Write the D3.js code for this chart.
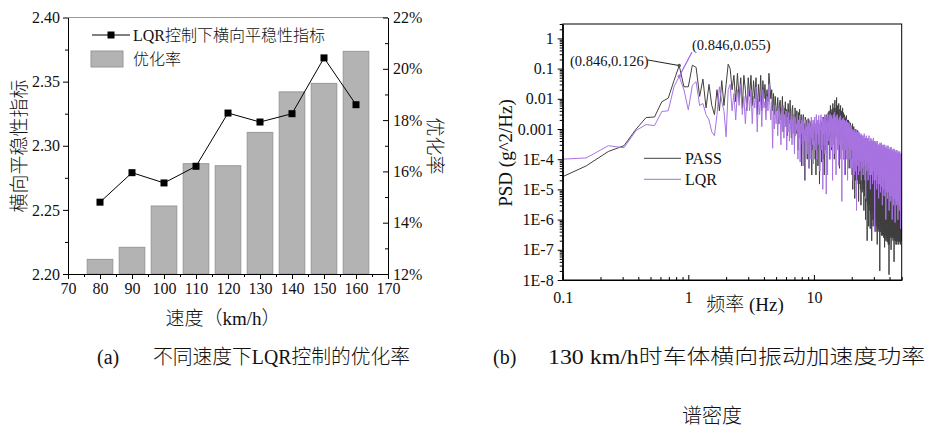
<!DOCTYPE html>
<html><head><meta charset="utf-8">
<script src="https://cdn.jsdelivr.net/npm/d3@7/dist/d3.min.js"></script>
<style>body{margin:0;background:#fff}svg{display:block}</style>
</head><body><svg id="c" width="929" height="430"></svg>
<script>
// ---------- (a) data ----------
const speeds = [80, 90, 100, 110, 120, 130, 140, 150, 160];
const optimizationRate = [12.57, 13.04, 14.65, 16.3, 16.22, 17.52, 19.1, 19.43, 20.68]; // %
const lateralIndex = [2.256, 2.279, 2.271, 2.284, 2.3255, 2.3185, 2.325, 2.3685, 2.332];
const speedTicks = [70, 80, 90, 100, 110, 120, 130, 140, 150, 160, 170];
const indexTicks = [2.20, 2.25, 2.30, 2.35, 2.40];
const rateTicks = [12, 14, 16, 18, 20, 22];

// ---------- (b) data ----------
const freqStep = 1 / 13; // Hz, spectral line spacing (0.846 Hz = 11th line)
const passPSD = [
1.6e-5,6e-5,1.8e-4,2.8e-4,1e-3,2.4e-3,2.5e-3,8e-3,1.05e-2,4e-2,0.126,0.025,0.025,
0.13,0.11,0.012,0.045,0.005,0.03,0.006,0.003,0.02,0.004,0.04,0.006,0.03,0.14,0.1,0.02,0.06,0.008,0.07,0.01,0.05,0.005,0.06,0.02,0.004,0.05,
0.012,0.06,0.006,0.04,0.01,0.05,0.003,0.03,0.008,0.06,0.004,0.04,0.01,0.03,0.005,0.02,0.008,0.07,0.03,0.01,0.02,0.004,0.015,0.003,0.012,0.004,
0.004,0.011,0.0015,0.006,0.009,0.002,0.0035,0.012,8e-4,0.005,
0.0025,0.008,0.0012,0.0045,6e-4,0.007,0.003,0.0015,0.009,0.002,
5e-4,0.004,0.006,0.0012,0.003,3e-4,0.005,0.0018,7e-4,0.004,
0.0025,2e-4,0.0035,0.001,0.0045,5e-4,0.0015,0.003,6e-5,0.002,
8e-4,0.003,3e-4,0.0015,2e-5,0.0025,6e-4,0.0012,0.002,1e-4,
0.0014,4e-4,0.0022,5e-5,0.001,0.0018,3e-4,9e-4,0.0015,3e-5,
7e-4,0.0012,2e-4,0.001,4e-4,
6e-4,1.5e-3,1e-4,8e-4,3e-5,1.2e-3,4e-4,2e-4,1.6e-3,6e-5,
9e-4,3e-4,1.4e-3,1.5e-5,6e-4,1.1e-3,2e-4,1.8e-3,5e-4,8e-5,
1.2e-3,4e-4,2e-3,1e-4,9e-4,2.5e-3,3e-5,1.5e-3,6e-4,2.2e-3,
2e-4,1.8e-3,3e-3,5e-4,1.2e-3,6e-5,2.5e-3,8e-4,3.5e-3,3e-4,
2e-3,4e-3,1e-4,2.8e-3,1.2e-3,6e-3,5e-4,2.2e-3,3.5e-3,2e-4,
4.5e-3,1.5e-3,2.8e-3,7e-3,4e-4,3e-3,1.8e-3,5e-3,1e-4,3.5e-3,
9e-3,1.2e-3,3e-3,6e-4,5e-3,2.2e-3,1.1e-2,8e-4,4e-3,2.5e-3,
6e-3,3e-4,3.5e-3,1.5e-3,7e-3,9e-4,2.5e-3,5e-5,4.5e-3,1.8e-3,
3e-3,6e-3,5e-4,2.2e-3,1.2e-3,4e-3,2e-4,2.8e-3,1.5e-3,5e-3,
7e-4,2.5e-3,3.5e-3,1e-4,2e-3,1e-3,3e-3,4e-4,1.8e-3,2.5e-3,
3e-5,1.5e-3,2.2e-3,6e-4,1.2e-3,2.8e-3,2e-4,1.6e-3,8e-4,2e-3,
1e-4,1.4e-3,6e-4,2e-3,3e-4,1.2e-3,1.8e-3,5e-5,1e-3,1.5e-3,
4e-4,1.2e-3,2e-4,1.6e-3,8e-4,1e-4,1.3e-3,6e-4,1.1e-3,3e-4,
8e-4,3e-5,2e-4,1.5e-3,1e-5,3e-4,9e-4,6e-5,1e-4,1.2e-3,
4e-5,5e-4,2e-4,1e-3,5e-6,3e-4,7e-4,2e-5,1.5e-4,1e-3,
6e-5,4e-4,1.2e-4,8e-4,1.5e-5,2.5e-4,6e-4,4e-5,1e-4,9e-4,
2e-5,3e-4,8e-5,6e-4,4e-6,2e-4,5e-4,1.5e-5,1e-4,7e-4,
3e-5,2.5e-4,6e-5,5e-4,1e-5,1.5e-4,4e-4,3e-6,8e-5,6e-4,
2e-5,2e-4,5e-5,4e-4,8e-6,1.2e-4,3e-4,1.5e-5,6e-5,5e-4,
1e-5,1.5e-4,4e-5,3e-4,2e-6,8e-5,2e-4,6e-6,5e-5,3e-4,
8e-6,1e-4,3e-5,2.5e-4,1e-6,6e-5,1.5e-4,4e-6,3e-5,2e-4,
5e-6,8e-5,2e-5,2e-4,2e-7,5e-5,1.2e-4,3e-6,2.5e-5,1.5e-4,
4e-6,7e-5,1.5e-5,1.5e-4,6e-7,4e-5,1e-4,2e-6,2e-5,1.2e-4,
3e-6,6e-5,1.2e-5,1.2e-4,5e-7,3e-5,8e-5,1.5e-6,1.5e-5,1e-4,
2e-6,5e-5,1e-5,1e-4,2e-7,2.5e-5,7e-5,1e-6,1.2e-5,9e-5,
2e-6,4e-5,8e-6,9e-5,6e-7,2e-5,6e-5,1e-6,1e-5,8e-5,
1.5e-6,3.5e-5,7e-6,8e-5,5e-7,1.8e-5,5e-5,8e-7,9e-6,7e-5,
1.2e-6,3e-5,6e-6,7e-5,4e-7,1.5e-5,4e-5,6e-7,8e-6,6e-5,
1e-6,2.5e-5,5e-6,6e-5,1.5e-7,1.2e-5,3.5e-5,5e-7,7e-6,5e-5,
1e-6,2e-5,4e-6,5e-5,5e-7,1e-5,3e-5,4e-7,6e-6,5e-5,
8e-7,2e-5,4e-6,4e-5,2e-8,9e-6,3e-5,4e-7,5e-6,4.5e-5,
7e-7,1.8e-5,3.5e-6,4e-5,4e-7,8e-6,2.5e-5,3e-7,5e-6,4e-5,
6e-7,1.5e-5,3e-6,3.5e-5,3e-7,7e-6,2.2e-5,3e-7,4e-6,3.5e-5,
5e-7,1.5e-5,3e-6,3e-5,3e-7,6e-6,2e-5,2.5e-7,3.5e-6,3e-5,
5e-7,1.2e-5,2.5e-6,3e-5,1.2e-7,5e-6,1.8e-5,2e-7,3e-6,2.8e-5,
4e-7,1.2e-5,2.5e-6,2.5e-5,3e-7,5e-6,1.5e-5,2e-7,3e-6,2.5e-5,
4e-7,1e-5,2e-6,2.5e-5,2.5e-7,4e-6,1.5e-5,1.8e-7,2.5e-6,2.2e-5,
3.5e-7,1e-5,2e-6,2.2e-5,2e-7,4e-6,1.2e-5,1.5e-7,2.5e-6,2e-5,
3e-7,9e-6,1.8e-6,2e-5,1.5e-8,3.5e-6,1.2e-5,1.5e-7,2e-6,2e-5,
3e-7,8e-6,1.5e-6,1.8e-5,2.5e-7,3e-6,1e-5,3e-7,2e-6,1.8e-5,
3e-7,8e-6,1.5e-6,1.6e-5,1e-7,3e-6,1e-5,3e-7,1.8e-6,1.5e-5,
2.5e-7,7e-6,1.2e-6,1.5e-5,2.5e-7,2.5e-6,9e-6,3e-7,1.8e-6,1.5e-5,
2.5e-7,7e-6,1.2e-6,1.4e-5,2e-7,2.5e-6,8e-6,3e-7,1.5e-6,1.3e-5,
2.5e-7,6e-6,1e-6,1.3e-5,4e-8,2.2e-6,8e-6,3e-7,1.5e-6,1.2e-5,
2.2e-7,6e-6,1e-6,1.2e-5,2e-7,2e-6,7e-6,3e-7,1.3e-6,1.2e-5,
2e-7,5e-6,9e-7,1.1e-5,1.5e-7,2e-6,7e-6,3e-7,1.2e-6,1e-5,
2e-7,5e-6,9e-7,1e-5,1.5e-7,1.8e-6,6e-6,3e-7,1.2e-6,1e-5,
2e-7,5e-6,8e-7,1e-5,2e-7,1.8e-6,6e-6,3e-7,1e-6,9e-6,
1.8e-7,4.5e-6,8e-7,9e-6,1.5e-7,1.6e-6,5e-6,3e-7,1e-6,8e-6,
1.8e-7,4e-6,7e-7,8e-6,2e-7,1.5e-6,5e-6,3e-7,1e-6,8e-6,
2e-7,4e-6,7e-7,8e-6,1.5e-7,1.5e-6,4.5e-6,3e-7,9e-7,7e-6,
2e-7,4e-6,7e-7,7e-6,2e-7,1.4e-6,4e-6,3e-7,8e-7,4e-7
];
const lqrPSD = [
9.5e-5,1.1e-4,2.8e-4,2.4e-4,9e-4,1.4e-3,1.3e-3,3.8e-3,4e-3,2.5e-2,0.055,0.02,4.3e-3,
0.028,0.037,0.006,0.007,0.003,0.002,8e-4,6e-4,0.003,0.025,0.008,0.004,5.5e-4,0.02,0.03,0.004,0.015,0.002,0.02,0.006,0.03,0.003,0.012,0.0015,0.01,0.02,
0.004,0.02,0.0015,0.012,0.005,0.025,8e-4,0.01,0.003,0.015,0.0012,0.02,0.005,0.008,0.002,0.012,0.004,0.03,0.006,0.002,0.008,2.3e-4,0.005,0.001,0.006,0.0015,
0.004,6e-4,0.005,0.0015,0.003,3e-4,0.004,0.001,0.006,5e-4,
0.003,0.0012,0.004,2e-4,0.0025,8e-4,0.0035,4e-4,0.002,0.001,
0.004,3e-4,0.002,7e-4,0.003,1.5e-4,0.0025,6e-4,0.0015,9e-4,
0.003,1e-4,0.002,5e-4,0.0028,8e-5,0.0015,7e-4,0.002,3e-4,
0.0025,6e-5,0.0018,4e-4,0.001,2e-5,0.002,6e-4,0.0012,1.5e-4,
0.0022,4e-4,0.0015,5e-5,0.002,8e-4,0.0012,1e-4,0.0025,5e-4,
0.0015,3e-4,0.002,7e-5,0.0018,
8e-4,0.0025,2e-4,0.0015,5e-4,0.003,1e-4,0.002,7e-4,0.0018,
3e-4,0.0028,6e-4,0.0015,4e-5,0.002,9e-4,0.003,2e-4,0.0012,
5e-4,0.0025,1e-5,0.0018,7e-4,0.0022,3e-4,0.003,1.5e-4,0.0015,
8e-4,0.0028,7e-6,0.002,6e-4,0.0015,3e-5,0.0025,1e-3,0.0018,
4e-4,0.003,6e-4,0.002,1e-4,0.0032,8e-4,0.0015,2.5e-4,0.0028,
7e-4,0.0022,2e-5,0.002,1e-3,0.003,3e-4,0.0018,6e-4,0.0035,
1.5e-4,0.0025,9e-4,0.0018,3e-5,0.0028,5e-4,0.002,1.2e-3,0.003,
2e-4,0.0022,7e-4,0.0015,6e-5,0.002,1e-3,0.0025,3e-4,0.0016,
8e-4,0.0028,1e-4,0.0018,5e-4,0.002,4e-6,0.0015,9e-4,0.0022,
3e-4,0.0016,7e-4,0.0024,1e-4,0.0014,5e-4,0.002,3e-5,0.0012,
6e-4,0.0018,2e-4,0.0015,8e-4,0.002,1e-4,0.0013,4e-4,0.0017,
2e-5,0.0012,6e-4,0.0016,2.5e-4,0.0011,7e-4,0.0015,1e-4,0.001,
5e-4,0.0014,3e-4,0.0012,5e-5,9e-4,6e-4,0.0013,2e-4,0.001,
2e-4,1e-3,5e-5,6e-4,1.5e-4,8e-4,2e-5,4e-4,9e-4,1e-4,
7e-4,3e-5,5e-4,2e-4,1e-3,8e-5,6e-4,3e-4,8e-4,4e-5,
5e-4,2e-4,9e-4,2e-6,4e-4,7e-4,1e-4,6e-4,3e-4,8e-4,
6e-5,5e-4,2e-4,7e-4,3e-5,4e-4,8e-4,1e-4,5e-4,2.5e-4,
7e-4,4e-5,4e-4,1.5e-4,6e-4,8e-5,5e-4,2e-4,7e-4,2e-5,
4e-4,1.2e-4,6e-4,5e-5,3.5e-4,6e-4,9e-5,4.5e-4,2e-4,6e-4,
3e-5,4e-4,1.5e-4,5e-4,6e-5,3e-4,7e-4,1e-4,4e-4,1.8e-4,
5e-4,2e-5,3e-4,1.2e-4,5e-4,5e-6,4e-4,1.5e-4,6e-4,7e-5,
3e-4,1e-4,5e-4,4e-5,2.5e-4,5e-4,8e-5,3.5e-4,1.5e-4,5e-4,
2e-5,3e-4,1.2e-4,4.5e-4,5e-5,2.5e-4,6e-4,9e-5,3e-4,1.5e-4,
4e-4,3e-5,2.5e-4,1e-4,4e-4,1e-5,3e-4,1.2e-4,5e-4,6e-5,
2.5e-4,8e-5,4e-4,3e-5,2e-4,4.5e-4,7e-5,3e-4,1.2e-4,4e-4,
1.5e-5,2.5e-4,1e-4,4e-4,4e-5,2e-4,5e-4,8e-5,2.5e-4,1.2e-4,
3.5e-4,2e-5,2e-4,8e-5,4e-4,4e-7,2.5e-4,1e-4,3.5e-4,5e-5,
2e-4,6e-5,3.5e-4,2e-5,1.5e-4,4e-4,5e-5,2.5e-4,1e-4,3e-4,
1e-5,2e-4,8e-5,3.5e-4,3e-5,1.5e-4,4e-4,6e-5,2e-4,1e-4,
3e-4,1.5e-5,1.8e-4,7e-5,3e-4,5e-6,2e-4,9e-5,3e-4,4e-5,
1.8e-4,5e-5,3e-4,1.5e-5,1.2e-4,3.5e-4,4e-5,2e-4,8e-5,3e-4,
8e-6,1.8e-4,6e-5,3e-4,2.5e-5,1.2e-4,3.5e-4,5e-5,1.8e-4,9e-5,
2.5e-4,1.2e-5,1.5e-4,6e-5,3e-4,3e-6,1.8e-4,8e-5,2.5e-4,3e-5,
1.5e-4,4e-5,2.5e-4,1e-5,1e-4,3e-4,3e-5,1.8e-4,7e-5,2.5e-4,
6e-6,1.5e-4,5e-5,2.5e-4,2e-5,1e-4,3e-4,4e-5,1.5e-4,8e-5,
2.2e-4,1e-5,1.2e-4,5e-5,2.5e-4,1e-6,1.5e-4,6e-5,2.2e-4,2.5e-5,
1.2e-4,3.5e-5,2.2e-4,8e-6,9e-5,2.8e-4,2.5e-5,1.5e-4,6e-5,2.2e-4,
5e-6,1.2e-4,4e-5,2.2e-4,1.5e-5,9e-5,2.8e-4,3e-5,1.2e-4,7e-5,
2e-4,8e-6,1e-4,4e-5,2.2e-4,2e-6,1.2e-4,5e-5,2e-4,2e-5,
1e-4,3e-5,2e-4,6e-6,8e-5,2.5e-4,2e-5,1.2e-4,5e-5,2e-4,
4e-6,1e-4,3e-5,2e-4,1.2e-5,8e-5,2.5e-4,2.5e-5,1e-4,6e-5,
1.8e-4,6e-6,9e-5,3e-5,2e-4,1e-6,1e-4,4e-5,1.8e-4,1.5e-5,
9e-5,2.5e-5,1.8e-4,5e-6,7e-5,2.2e-4,1.8e-5,1e-4,4e-5,1.8e-4,
3e-6,9e-5,2.5e-5,1.8e-4,1e-5,7e-5,2.2e-4,2e-5,9e-5,5e-5,
1.6e-4,5e-6,8e-5,2.5e-5,1.8e-4,8e-7,9e-5,3.5e-5,1.6e-4,1.2e-5,
8e-5,2e-5,1.6e-4,4e-6,6e-5,2e-4,1.5e-5,9e-5,3.5e-5,1.6e-4,
3e-6,8e-5,2e-5,1.6e-4,8e-6,6e-5,2e-4,1.8e-5,8e-5,4e-5,
1.5e-4,4e-6,7e-5,2e-5,1.6e-4,1e-6,8e-5,3e-5,1.5e-4,1e-5,
7e-5,1.8e-5,1.5e-4,3e-6,5e-5,1.8e-4,1.2e-5,8e-5,3e-5,1.5e-4,
2e-6,7e-5,1.8e-5,1.5e-4,6e-6,5e-5,1.8e-4,1.5e-5,7e-5,3.5e-5,
1.4e-4,3e-6,6e-5,1.8e-5,1.5e-4,5e-7,7e-5,2.5e-5,1.4e-4,8e-6,
6e-5,1.5e-5,1.4e-4,2.5e-6,4.5e-5,1.6e-4,1e-5,7e-5,2.5e-5,1e-6
];
const psdTicks = [1e-8, 1e-7, 1e-6, 1e-5, 1e-4, 1e-3, 1e-2, 0.1, 1];
const psdTickLabels = ["1E-8", "1E-7", "1E-6", "1E-5", "1E-4", "0.001", "0.01", "0.1", "1"];
const freqTicks = [0.1, 1, 10];
const freqTickLabels = ["0.1", "1", "10"];
const peakFreq = 0.846, passPeak = 0.126, lqrPeak = 0.055;

// ---------- drawing ----------
const svg = d3.select('#c');
svg.append('rect').attr('width', 929).attr('height', 430).attr('fill', '#fff');
const LAT = "'Liberation Serif','Times New Roman',serif";
const CJK = "'Noto Sans CJK SC','Noto Sans CJK JP',sans-serif";
const CJK_RE = /([\u3000-\u303f\u4e00-\u9fff\uff00-\uffef]+)/;

function mixed(t, str) {
  str.split(CJK_RE).filter(s => s.length).forEach(s => {
    const isCJK = CJK_RE.test(s);
    t.append('tspan').attr('font-family', isCJK ? CJK : LAT)
      .attr('font-weight', isCJK ? 300 : 400).text(s);
  });
  return t;
}
function styleAxis(g, size) {
  g.attr('font-family', LAT);
  g.selectAll('path.domain').attr('stroke', '#000').attr('stroke-width', 1);
  g.selectAll('.tick line').attr('stroke', '#000').attr('stroke-width', 1);
  g.selectAll('text').attr('font-family', LAT).attr('font-size', size).attr('fill', '#111');
}

// ===== Chart (a) =====
const A = { l: 68, r: 388, t: 17.5, b: 274 };
const xA = d3.scaleLinear().domain([70, 170]).range([A.l, A.r]);
const yA = d3.scaleLinear().domain([2.2, 2.4]).range([A.b, A.t]);
const yR = d3.scaleLinear().domain([12, 22]).range([A.b, A.t]);
const ga = svg.append('g');

ga.append('line').attr('x1', A.l).attr('x2', A.r).attr('y1', A.t).attr('y2', A.t)
  .attr('stroke', '#999').attr('stroke-width', 1);

const barW = xA(84) - xA(76);
ga.selectAll('rect.bar').data(speeds.map((s, i) => ({ s, v: optimizationRate[i] })))
  .enter().append('rect').attr('class', 'bar')
  .attr('x', d => xA(d.s) - barW / 2).attr('width', barW)
  .attr('y', d => yR(d.v)).attr('height', d => yR(12) - yR(d.v))
  .attr('fill', '#b3b3b3').attr('stroke', '#979797').attr('stroke-width', 1);

const axL = ga.append('g').attr('transform', `translate(${A.l},0)`)
  .call(d3.axisLeft(yA).tickValues(indexTicks).tickFormat(d3.format('.2f')).tickSize(5).tickSizeOuter(0).tickPadding(3));
styleAxis(axL, 16);
const axLm = ga.append('g').attr('transform', `translate(${A.l},0)`)
  .call(d3.axisLeft(yA).tickValues(d3.range(2.225, 2.4, 0.05)).tickFormat('').tickSize(3).tickSizeOuter(0));
styleAxis(axLm, 16);
const axR = ga.append('g').attr('transform', `translate(${A.r},0)`)
  .call(d3.axisRight(yR).tickValues(rateTicks).tickFormat(d => d + '%').tickSizeInner(-5).tickSizeOuter(0).tickPadding(5));
styleAxis(axR, 16);
const axRm = ga.append('g').attr('transform', `translate(${A.r},0)`)
  .call(d3.axisRight(yR).tickValues([13, 15, 17, 19, 21]).tickFormat('').tickSizeInner(-3).tickSizeOuter(0));
styleAxis(axRm, 16);
const axB = ga.append('g').attr('transform', `translate(0,${A.b})`)
  .call(d3.axisBottom(xA).tickValues(speedTicks).tickSize(5).tickSizeOuter(0).tickPadding(4));
styleAxis(axB, 16);
const axBm = ga.append('g').attr('transform', `translate(0,${A.b})`)
  .call(d3.axisBottom(xA).tickValues(d3.range(75, 170, 10)).tickFormat('').tickSize(3).tickSizeOuter(0));
styleAxis(axBm, 16);

const lineA = d3.line().x((d, i) => xA(speeds[i])).y(d => yA(d));
ga.append('path').datum(lateralIndex).attr('d', lineA).attr('fill', 'none')
  .attr('stroke', '#000').attr('stroke-width', 1);
ga.selectAll('rect.mk').data(lateralIndex).enter().append('rect').attr('class', 'mk')
  .attr('x', (d, i) => xA(speeds[i]) - 3.5).attr('y', d => yA(d) - 3.5)
  .attr('width', 7).attr('height', 7).attr('fill', '#000');

// legend (a)
ga.append('line').attr('x1', 92).attr('x2', 130).attr('y1', 35).attr('y2', 35).attr('stroke', '#000');
ga.append('rect').attr('x', 107.5).attr('y', 31.5).attr('width', 7).attr('height', 7).attr('fill', '#000');
mixed(ga.append('text').attr('x', 133).attr('y', 40.5).attr('font-size', 16).attr('fill', '#111'), 'LQR控制下横向平稳性指标');
ga.append('rect').attr('x', 91).attr('y', 51).attr('width', 32).attr('height', 16)
  .attr('fill', '#b3b3b3').attr('stroke', '#979797');
mixed(ga.append('text').attr('x', 133).attr('y', 65).attr('font-size', 16).attr('fill', '#111'), '优化率');

// axis titles (a)
mixed(ga.append('text').attr('transform', 'translate(17,146) rotate(-90)').attr('text-anchor', 'middle')
  .attr('dominant-baseline', 'central').attr('font-size', 19).attr('fill', '#111'), '横向平稳性指标');
mixed(ga.append('text').attr('transform', 'translate(437,146) rotate(90)').attr('text-anchor', 'middle')
  .attr('dominant-baseline', 'central').attr('font-size', 19).attr('fill', '#111'), '优化率');
mixed(ga.append('text').attr('x', 223).attr('y', 325).attr('text-anchor', 'middle')
  .attr('font-size', 19).attr('fill', '#111'), '速度（km/h）');

// ===== Chart (b) =====
const B = { l: 562.7, r: 901.7, t: 24, b: 280 };
const xP = d3.scaleLog().domain([0.1, 50]).range([B.l, B.r]);
const yP = d3.scaleLog().domain([1e-8, 3]).range([B.b, B.t]);
const gb = svg.append('g');
gb.append('clipPath').attr('id', 'clipB').append('rect')
  .attr('x', B.l).attr('y', B.t).attr('width', B.r - B.l).attr('height', B.b - B.t);

const lineP = d3.line().x((d, i) => xP((i + 1) * freqStep)).y(d => yP(d));
const lines = gb.append('g').attr('clip-path', 'url(#clipB)');
lines.append('path').datum(passPSD).attr('d', lineP).attr('fill', 'none')
  .attr('stroke', '#404040').attr('stroke-width', 1);
lines.append('path').datum(lqrPSD).attr('d', lineP).attr('fill', 'none')
  .attr('stroke', '#a874e0').attr('stroke-width', 1);

gb.append('rect').attr('x', B.l).attr('y', B.t).attr('width', B.r - B.l).attr('height', B.b - B.t)
  .attr('fill', 'none').attr('stroke', '#000').attr('stroke-width', 1);

const minorY = [];
for (let e = -8; e <= 0; e++) for (let m = 2; m <= 9; m++) { const v = m * Math.pow(10, e); if (v <= 3) minorY.push(v); }
const minorX = [];
for (let e = -1; e <= 1; e++) for (let m = 2; m <= 9; m++) { const v = m * Math.pow(10, e); if (v <= 50) minorX.push(v); }
const byL = gb.append('g').attr('transform', `translate(${B.l},0)`)
  .call(d3.axisLeft(yP).tickValues(psdTicks).tickFormat((d, i) => psdTickLabels[i]).tickSize(5).tickSizeOuter(0).tickPadding(4));
styleAxis(byL, 16);
const byLm = gb.append('g').attr('transform', `translate(${B.l},0)`)
  .call(d3.axisLeft(yP).tickValues(minorY).tickFormat('').tickSize(3).tickSizeOuter(0));
styleAxis(byLm, 16);
const bxB = gb.append('g').attr('transform', `translate(0,${B.b})`)
  .call(d3.axisBottom(xP).tickValues(freqTicks).tickFormat((d, i) => freqTickLabels[i]).tickSizeInner(-5).tickSizeOuter(0).tickPadding(12));
styleAxis(bxB, 16);
const bxBm = gb.append('g').attr('transform', `translate(0,${B.b})`)
  .call(d3.axisBottom(xP).tickValues(minorX).tickFormat('').tickSizeInner(-3).tickSizeOuter(0));
styleAxis(bxBm, 16);

// annotations
gb.append('line').attr('x1', 648).attr('y1', 60).attr('x2', xP(peakFreq)).attr('y2', yP(passPeak))
  .attr('stroke', '#222').attr('stroke-width', 1);
gb.append('circle').attr('cx', xP(peakFreq)).attr('cy', yP(passPeak)).attr('r', 1.8).attr('fill', '#555');
gb.append('text').attr('x', 570).attr('y', 65.5).text('(0.846,0.126)')
  .attr('font-family', LAT).attr('font-size', 14.5).attr('fill', '#111');
gb.append('line').attr('x1', xP(peakFreq)).attr('y1', yP(lqrPeak)).attr('x2', 692).attr('y2', 52)
  .attr('stroke', '#a160ea').attr('stroke-width', 1.2);
gb.append('circle').attr('cx', xP(peakFreq)).attr('cy', yP(lqrPeak)).attr('r', 1.6).attr('fill', '#a874e0');
gb.append('text').attr('x', 692).attr('y', 50).text('(0.846,0.055)')
  .attr('font-family', LAT).attr('font-size', 14.5).attr('fill', '#111');

// legend (b)
gb.append('line').attr('x1', 644).attr('x2', 681).attr('y1', 158.3).attr('y2', 158.3).attr('stroke', '#404040');
gb.append('text').attr('x', 685).attr('y', 164).text('PASS')
  .attr('font-family', LAT).attr('font-size', 16).attr('fill', '#111');
gb.append('line').attr('x1', 644).attr('x2', 681).attr('y1', 179.3).attr('y2', 179.3).attr('stroke', '#b58ae8').attr('stroke-width', 1.3);
gb.append('text').attr('x', 685).attr('y', 185).text('LQR')
  .attr('font-family', LAT).attr('font-size', 16).attr('fill', '#111');

// axis titles (b)
gb.append('text').attr('transform', 'translate(505,153) rotate(-90)').attr('text-anchor', 'middle')
  .attr('dominant-baseline', 'central').text('PSD (g^2/Hz)')
  .attr('font-family', LAT).attr('font-size', 19).attr('fill', '#111');
mixed(gb.append('text').attr('x', 745).attr('y', 311).attr('text-anchor', 'middle')
  .attr('font-size', 19).attr('fill', '#111'), '频率 (Hz)');

// ===== captions =====
const cap = svg.append('g').attr('font-size', 20).attr('fill', '#111');
mixed(cap.append('text').attr('x', 97).attr('y', 364), '(a)');
mixed(cap.append('text').attr('x', 153).attr('y', 364)
  .attr('textLength', 257).attr('lengthAdjust', 'spacingAndGlyphs'), '不同速度下LQR控制的优化率');
mixed(cap.append('text').attr('x', 493).attr('y', 364), '(b)');
mixed(cap.append('text').attr('x', 548).attr('y', 364)
  .attr('textLength', 377).attr('lengthAdjust', 'spacingAndGlyphs'), '130 km/h时车体横向振动加速度功率');
mixed(cap.append('text').attr('x', 712).attr('y', 423).attr('text-anchor', 'middle'), '谱密度');
</script></body></html>
